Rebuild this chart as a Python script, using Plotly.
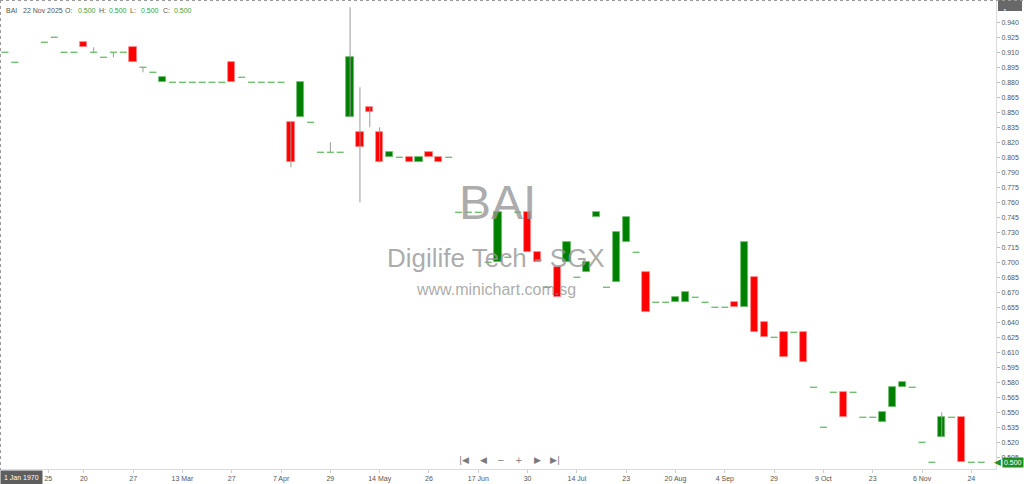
import plotly.graph_objects as go

# ---------------- data ----------------
slot = [0, 1, 4, 5, 6, 7, 8, 9, 10, 11,
        12, 13, 14, 15, 16, 17, 18, 19, 20, 21,
        22, 23, 24, 25, 26, 27, 28, 29, 30, 31,
        32, 33, 34, 35, 36, 37, 38, 39, 40, 41,
        42, 43, 44, 45, 46, 47, 48, 49, 50, 51,
        52, 53, 54, 55, 56, 57, 58, 59, 60, 61,
        62, 63, 64, 65, 66, 67, 68, 69, 70, 71,
        72, 73, 74, 75, 76, 77, 78, 79, 80, 81,
        82, 83, 84, 85, 86, 87, 88, 89, 90, 91,
        92, 93, 94, 95, 96, 97, 98, 99]

open_ = [0.910, 0.900, 0.920, 0.925, 0.910, 0.910, 0.920, 0.910, 0.905, 0.910,
         0.910, 0.915, 0.895, 0.890, 0.880, 0.880, 0.880, 0.880, 0.880, 0.880,
         0.880, 0.900, 0.885, 0.880, 0.880, 0.880, 0.880, 0.840, 0.845, 0.840,
         0.810, 0.810, 0.810, 0.845, 0.830, 0.855, 0.830, 0.805, 0.805, 0.805,
         0.800, 0.810, 0.805, 0.805, 0.750, 0.750, 0.750, 0.700, 0.700, 0.705,
         0.750, 0.750, 0.710, 0.675, 0.695, 0.700, 0.685, 0.690, 0.745, 0.675,
         0.680, 0.720, 0.710, 0.690, 0.660, 0.660, 0.660, 0.660, 0.665, 0.660,
         0.655, 0.655, 0.660, 0.655, 0.685, 0.640, 0.625, 0.630, 0.630, 0.630,
         0.575, 0.535, 0.570, 0.570, 0.570, 0.545, 0.545, 0.540, 0.555, 0.575,
         0.575, 0.520, 0.500, 0.525, 0.545, 0.545, 0.500, 0.500]

high = [0.910, 0.900, 0.920, 0.925, 0.910, 0.910, 0.920, 0.915, 0.905, 0.910,
        0.910, 0.915, 0.895, 0.890, 0.885, 0.880, 0.880, 0.880, 0.880, 0.880,
        0.880, 0.900, 0.885, 0.880, 0.880, 0.880, 0.880, 0.840, 0.880, 0.840,
        0.810, 0.820, 0.810, 0.955, 0.875, 0.855, 0.835, 0.810, 0.805, 0.805,
        0.805, 0.810, 0.805, 0.805, 0.750, 0.750, 0.750, 0.700, 0.750, 0.705,
        0.750, 0.750, 0.710, 0.675, 0.695, 0.720, 0.685, 0.700, 0.750, 0.675,
        0.730, 0.745, 0.710, 0.690, 0.660, 0.660, 0.665, 0.670, 0.665, 0.660,
        0.655, 0.655, 0.660, 0.720, 0.685, 0.640, 0.625, 0.630, 0.630, 0.630,
        0.575, 0.535, 0.570, 0.570, 0.570, 0.545, 0.545, 0.550, 0.575, 0.580,
        0.575, 0.520, 0.500, 0.550, 0.545, 0.545, 0.500, 0.500]

low = [0.910, 0.900, 0.920, 0.925, 0.910, 0.910, 0.915, 0.910, 0.905, 0.905,
       0.910, 0.900, 0.890, 0.890, 0.880, 0.880, 0.880, 0.880, 0.880, 0.880,
       0.880, 0.880, 0.885, 0.880, 0.880, 0.880, 0.880, 0.795, 0.845, 0.840,
       0.810, 0.810, 0.810, 0.845, 0.760, 0.835, 0.800, 0.805, 0.805, 0.800,
       0.800, 0.805, 0.800, 0.805, 0.750, 0.750, 0.750, 0.700, 0.700, 0.705,
       0.750, 0.710, 0.700, 0.675, 0.665, 0.700, 0.685, 0.690, 0.745, 0.675,
       0.680, 0.720, 0.710, 0.650, 0.660, 0.660, 0.660, 0.660, 0.665, 0.660,
       0.655, 0.655, 0.655, 0.655, 0.630, 0.625, 0.625, 0.605, 0.630, 0.600,
       0.575, 0.535, 0.570, 0.545, 0.570, 0.545, 0.545, 0.540, 0.555, 0.575,
       0.575, 0.520, 0.500, 0.525, 0.545, 0.500, 0.500, 0.500]

close = [0.910, 0.900, 0.920, 0.925, 0.910, 0.910, 0.915, 0.910, 0.905, 0.910,
         0.910, 0.900, 0.895, 0.890, 0.885, 0.880, 0.880, 0.880, 0.880, 0.880,
         0.880, 0.880, 0.885, 0.880, 0.880, 0.880, 0.880, 0.800, 0.880, 0.840,
         0.810, 0.810, 0.810, 0.905, 0.815, 0.850, 0.800, 0.810, 0.805, 0.800,
         0.805, 0.805, 0.800, 0.805, 0.750, 0.750, 0.750, 0.700, 0.750, 0.705,
         0.750, 0.710, 0.700, 0.675, 0.665, 0.720, 0.685, 0.700, 0.750, 0.675,
         0.730, 0.745, 0.710, 0.650, 0.660, 0.660, 0.665, 0.670, 0.665, 0.660,
         0.655, 0.655, 0.655, 0.720, 0.630, 0.625, 0.625, 0.605, 0.630, 0.600,
         0.575, 0.535, 0.570, 0.545, 0.570, 0.545, 0.545, 0.550, 0.575, 0.580,
         0.575, 0.520, 0.500, 0.545, 0.545, 0.500, 0.500, 0.500]

tick_slot = [4.4, 8, 13, 18, 23, 28, 33, 38, 43, 48,
             53, 58, 63, 68, 73, 78, 83, 88, 93, 98]
tick_text = ["25", "20", "27", "13 Mar", "27", "7 Apr", "29", "14 May", "26", "17 Jun",
             "30", "14 Jul", "23", "20 Aug", "4 Sep", "29", "9 Oct", "23", "6 Nov", "24"]

y_ticks = [0.505, 0.520, 0.535, 0.550, 0.565, 0.580, 0.595, 0.610, 0.625, 0.640,
           0.655, 0.670, 0.685, 0.700, 0.715, 0.730, 0.745, 0.760, 0.775, 0.790,
           0.805, 0.820, 0.835, 0.850, 0.865, 0.880, 0.895, 0.910, 0.925, 0.940]

symbol = "BAI"
company = "Digilife Tech - SGX"
site = "www.minichart.com.sg"
last_date = "22 Nov 2025"

# ---------------- layout helpers ----------------
W, H = 1024, 484
ML, MR, MT, MB = 0, 28, 0, 15
PW = W - ML - MR
PH = H - MT - MB


def px(x):
    return (x - ML) / PW


def py(y):
    return 1 - (y - MT) / PH


GREEN = "#008000"
RED = "#ff0000"
DOJI = "#72c172"
WICK = "#9a9a9a"
FONT = "Liberation Sans, Arial, sans-serif"
SMALL = 7

up_x, up_b, up_h = [], [], []
dn_x, dn_b, dn_h = [], [], []
dj_x, dj_y = [], []
wk_x, wk_y = [], []
for s, o, h, l, c in zip(slot, open_, high, low, close):
    if h > max(o, c) or l < min(o, c):
        wk_x += [s, s, None]
        wk_y += [l, h, None]
    if c > o:
        up_x.append(s); up_b.append(o); up_h.append(c - o)
    elif c < o:
        dn_x.append(s); dn_b.append(c); dn_h.append(o - c)
    else:
        dj_x.append(s); dj_y.append(c)

fig = go.Figure()
fig.add_trace(go.Scatter(x=wk_x, y=wk_y, mode="lines",
                         line=dict(color=WICK, width=1), hoverinfo="skip",
                         showlegend=False))
fig.add_trace(go.Bar(x=up_x, y=up_h, base=up_b, width=0.74,
                     marker=dict(color=GREEN, line=dict(color="#6fbb6f", width=0.8)),
                     hoverinfo="skip", showlegend=False))
fig.add_trace(go.Bar(x=dn_x, y=dn_h, base=dn_b, width=0.74,
                     marker=dict(color=RED, line=dict(color="#ff8a8a", width=0.8)),
                     hoverinfo="skip", showlegend=False))
fig.add_trace(go.Scatter(x=dj_x, y=dj_y, mode="markers",
                         marker=dict(symbol="line-ew", size=5,
                                     line=dict(color=DOJI, width=1.4)),
                         hoverinfo="skip", showlegend=False))

annotations = []
shapes = []

# watermark
wm = "rgba(150,150,150,0.8)"
annotations.append(dict(text=symbol, x=px(497), y=py(203), xref="paper", yref="paper",
                        showarrow=False, font=dict(size=48, color=wm, family=FONT)))
annotations.append(dict(text=company, x=px(496), y=py(258), xref="paper", yref="paper",
                        showarrow=False, font=dict(size=26, color=wm, family=FONT)))
annotations.append(dict(text=site, x=px(496), y=py(289), xref="paper", yref="paper",
                        showarrow=False, font=dict(size=16, color=wm, family=FONT)))

# header
hdr_gray = "#555555"
hdr_green = "#3a9e3a"
header_items = [
    (4, symbol, hdr_gray), (21, last_date, hdr_gray),
    (63, "O:", hdr_gray), (76, f"{open_[-1]:.3f}", hdr_green),
    (97, "H:", hdr_gray), (107, f"{high[-1]:.3f}", hdr_green),
    (128, "L:", hdr_gray), (139, f"{low[-1]:.3f}", hdr_green),
    (161, "C:", hdr_gray), (172, f"{close[-1]:.3f}", hdr_green),
]
for xx, tt, cc in header_items:
    annotations.append(dict(text=tt, x=px(xx), y=py(10.5), xref="paper", yref="paper",
                            xanchor="left", yanchor="middle", showarrow=False,
                            font=dict(size=SMALL, color=cc, family=FONT)))

# navigation buttons
nav = [(464, "|◀"), (483, "◀"), (501, "−"), (519, "+"), (537, "▶"), (555, "▶|")]
for xx, tt in nav:
    annotations.append(dict(text=tt, x=px(xx), y=py(459.5), xref="paper", yref="paper",
                            xanchor="center", yanchor="middle", showarrow=False,
                            font=dict(size=9, color="#7a7a7a", family="DejaVu Sans")))

# 1 Jan 1970 box
annotations.append(dict(text="1 Jan 1970", x=px(0), y=py(469.5), xref="paper", yref="paper",
                        xanchor="left", yanchor="top", showarrow=False,
                        bgcolor="#5e5e5e", borderpad=3,
                        font=dict(size=SMALL, color="white", family=FONT)))

# top right "1" box
shapes.append(dict(type="rect", xref="paper", yref="paper", x0=px(998), x1=px(1022),
                   y0=py(0), y1=py(11), fillcolor="#686868", line=dict(width=0)))
annotations.append(dict(text="1", x=px(1001), y=py(5.5), xref="paper", yref="paper",
                        xanchor="left", showarrow=False,
                        font=dict(size=SMALL, color="white", family=FONT)))

# last price label
annotations.append(dict(text=f"{close[-1]:.3f}", x=px(1002), y=close[-1], xref="paper", yref="y",
                        xanchor="left", yanchor="middle", showarrow=False,
                        bgcolor="#1f8f1f", borderpad=1,
                        font=dict(size=SMALL, color="white", family=FONT)))
annotations.append(dict(text="◀", x=px(1003), y=close[-1], xref="paper", yref="y",
                        xanchor="right", yanchor="middle", showarrow=False,
                        font=dict(size=9, color="#1f8f1f", family="DejaVu Sans")))

# dotted borders
shapes.append(dict(type="line", xref="paper", yref="paper", x0=px(0), x1=px(W),
                   y0=py(0.5), y1=py(0.5), line=dict(color="#9a9a9a", width=1, dash="dot")))
shapes.append(dict(type="line", xref="paper", yref="paper", x0=px(0.5), x1=px(0.5),
                   y0=py(0), y1=py(470), line=dict(color="#9a9a9a", width=1, dash="dot")))

fig.update_layout(
    width=W, height=H,
    margin=dict(l=ML, r=MR, t=MT, b=MB, pad=0),
    paper_bgcolor="white", plot_bgcolor="white",
    barmode="overlay", bargap=0,
    showlegend=False,
    font=dict(family=FONT, size=SMALL, color="#555555"),
    xaxis=dict(range=[-0.5, 100.5], tickmode="array", tickvals=tick_slot, ticktext=tick_text,
               ticks="outside", ticklen=3, tickcolor="#cfcfcf", showline=True,
               linecolor="#dcdcdc", linewidth=1, showgrid=False, zeroline=False,
               tickfont=dict(size=SMALL, color="#555555"), fixedrange=True,
               automargin=False),
    yaxis=dict(side="right", range=[0.4933, 0.9623], tickmode="array", tickvals=y_ticks,
               tickformat=".3f", ticks="outside", ticklen=3, tickcolor="#bdbdbd",
               showline=True, linecolor="#dcdcdc", linewidth=1, showgrid=False,
               zeroline=False, tickfont=dict(size=SMALL, color="#555555"), fixedrange=True,
               automargin=False),
    annotations=annotations,
    shapes=shapes,
)

fig.write_html("out.html", config={"displayModeBar": False},
               post_script="document.body.style.margin='0';document.body.style.overflow='hidden';")
